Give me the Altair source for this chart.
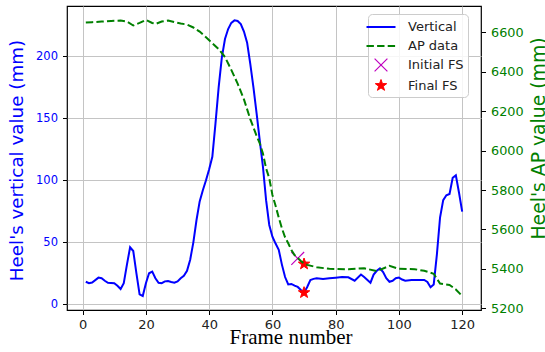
import altair as alt
import pandas as pd

# ---- data ----
frames_v = [1, 2, 3, 5, 6, 7, 8, 10, 11, 12, 13, 14, 15, 16, 17, 18, 19, 20, 21, 22, 23, 24, 25, 26, 27,
            28, 29, 30, 31, 32, 33, 34, 35, 36, 37, 38, 39, 40, 41, 42, 43, 44, 45, 46, 47, 48, 49, 50,
            51, 52, 53, 54, 55, 56, 57, 58, 59, 60, 61, 62, 63, 64, 65, 66, 67, 68, 69, 70, 71, 72, 73,
            74, 76, 78, 80, 82, 84, 86, 88, 89, 91, 92, 93, 94, 95, 96, 97, 98, 99, 100, 101, 102, 104,
            106, 108, 109, 110, 111, 112, 113, 114, 115, 116, 117, 118, 119, 120]
vertical = [18.2, 17, 17.5, 21.5, 21, 19, 17.4, 17, 15, 12.3, 17, 32, 46, 43, 25, 8, 6.7, 17, 25, 26.3,
            21, 17.4, 17, 18.5, 18.8, 18, 17.4, 18.5, 21, 23, 27, 36, 50, 68, 83, 92, 100, 109, 119, 146,
            175, 199, 214, 222, 227, 229, 228.5, 226, 220, 211, 194, 175, 154, 132, 111, 84, 64, 54.5, 49,
            44, 32, 22, 16, 16.4, 15, 14, 11.5, 9.4, 14, 19.6, 20.5, 21, 20.5, 21, 21.5, 22, 21.8, 19, 24,
            22, 17.4, 24, 27, 29, 26, 21, 18.2, 19, 21, 21.5, 20, 19, 19.5, 19.5, 19.6, 18, 13.7, 16, 40,
            70, 84, 88, 89, 102, 104, 90, 74.7]

frames_ap = [1, 3, 6, 9, 12, 14, 16, 18, 20, 22, 23, 25, 27, 29, 31, 33, 35, 37, 39, 41, 43, 45, 47, 49,
             51, 53, 55, 56, 57, 58, 59, 60, 61, 62, 63, 64, 65, 66, 67, 68, 69, 70, 71, 74, 78, 84, 89,
             93, 97, 100, 105, 108, 111, 113, 116, 118, 120]
ap_data = [6650, 6652, 6655, 6658, 6660, 6655, 6635, 6648, 6663, 6648, 6643, 6655, 6660, 6652, 6645,
           6640, 6625, 6604, 6575, 6545, 6515, 6475, 6410, 6340, 6260, 6160, 6075, 6037, 5985, 5910,
           5860, 5775, 5720, 5660, 5606, 5560, 5530, 5495, 5470, 5455, 5440, 5428, 5420, 5408, 5400,
           5398, 5403, 5388, 5415, 5400, 5398, 5390, 5375, 5325, 5318, 5295, 5262]

marker_frames = [68, 70, 70]
marker_values = [37, 32.5, 9.4]
marker_series = ["Initial FS", "Final FS", "Final FS"]

legend_names = ["Vertical", "AP data", "Initial FS", "Final FS"]
legend_colors = ["#0000ff", "#008000", "#bf00bf", "#ff0000"]
legend_fills = ["transparent", "transparent", "transparent", "#ff0000"]
legend_widths = [2, 2, 1.2, 1]
legend_paths = [
    "M-1.8125,0L1.8125,0",
    "M-1.8125,0L-0.8875,0M-0.4875,0L0.4375,0M0.8375,0L1.7625,0",
    "M-0.8,-0.8L0.8,0.8M-0.8,0.8L0.8,-0.8",
    "M0,-0.75L0.176,-0.243L0.714,-0.231L0.285,0.093L0.441,0.606L0,0.3L-0.441,0.606"
    "L-0.285,0.093L-0.714,-0.231L-0.176,-0.243Z",
]

x_ticks = [0, 20, 40, 60, 80, 100, 120]
left_ticks = [0, 50, 100, 150, 200]
right_ticks = [5200, 5400, 5600, 5800, 6000, 6200, 6400, 6600]

df_v = pd.DataFrame({"frame": frames_v, "value": vertical})
df_ap = pd.DataFrame({"frame": frames_ap, "value": ap_data})
df_m = pd.DataFrame({"frame": marker_frames, "value": marker_values, "series": marker_series})

W, H = 414, 304
FONT = "DejaVu Sans"

x_scale = alt.Scale(domain=[-4.95, 125.95], nice=False, zero=False)
left_scale = alt.Scale(domain=[-4.6, 240.6], nice=False, zero=False)
right_scale = alt.Scale(domain=[5191, 6734], nice=False, zero=False)

x_axis = alt.Axis(values=x_ticks, title="Frame number", grid=True, gridColor="#c4c4c4", gridWidth=1,
                  domain=False, ticks=True, tickColor="black", tickSize=4.5, tickWidth=1,
                  labelFont=FONT, labelFontSize=13, labelColor="#222222", labelPadding=4,
                  titleFont="Liberation Serif", titleFontSize=21, titleFontWeight="normal",
                  titleColor="black", titleX=223.5, titleY=33, titleBaseline="alphabetic",
                  titleAlign="center", titleAnchor="start")

x_enc = alt.X("frame:Q", scale=x_scale, axis=x_axis)

left_axis = alt.Axis(values=left_ticks, title="Heel's vertical value (mm)", grid=True,
                     gridColor="#c4c4c4", gridWidth=1, domain=False, tickColor="black",
                     tickSize=4.5, tickWidth=1, labelFont=FONT, labelFontSize=11.5,
                     labelColor="#0000ff", labelPadding=5, titleFont=FONT, titleFontSize=18.3,
                     titleFontWeight="normal", titleColor="#0000ff", titleAngle=270,
                     titleX=-50, titleY=154, titleAlign="center", titleBaseline="middle",
                     titleAnchor="start")

right_axis = alt.Axis(values=right_ticks, format="d", title="Heel's AP value (mm)", grid=False,
                      orient="right", domain=False, tickColor="black", tickSize=4.5, tickWidth=1,
                      labelFont=FONT, labelFontSize=12.8, labelColor="#008000", labelPadding=5,
                      titleFont=FONT, titleFontSize=18.8, titleFontWeight="normal",
                      titleColor="#008000", titleAngle=270, titleX=57, titleY=132,
                      titleAlign="center", titleBaseline="middle", titleAnchor="start")

y_left = alt.Y("value:Q", scale=left_scale, axis=left_axis)

vert_line = alt.Chart(df_v).mark_line(color="#0000ff", strokeWidth=2).encode(
    x=x_enc,
    y=y_left,
)

markers = alt.Chart(df_m).mark_point(filled=False, size=256, opacity=1).encode(
    x=x_enc,
    y=y_left,
    stroke=alt.Stroke("series:N", scale=alt.Scale(domain=legend_names, range=legend_colors), title=None),
    fill=alt.Fill("series:N", scale=alt.Scale(domain=legend_names, range=legend_fills), title=None),
    shape=alt.Shape("series:N", scale=alt.Scale(domain=legend_names, range=legend_paths), title=None),
    strokeWidth=alt.StrokeWidth("series:N", scale=alt.Scale(type="ordinal", domain=legend_names,
                                                            range=legend_widths), title=None),
)

left_layer = alt.layer(vert_line, markers)

ap_line = alt.Chart(df_ap).mark_line(color="#008000", strokeWidth=2, strokeDash=[7.4, 3.2]).encode(
    x=x_enc,
    y=alt.Y("value:Q", scale=right_scale, axis=right_axis),
)

chart = alt.layer(left_layer, ap_line).resolve_scale(y="independent").properties(
    width=W, height=H,
    autosize=alt.AutoSizeParams(type="none"),
    padding={"left": 67, "top": 6, "right": 64, "bottom": 42},
).configure_view(
    stroke="black", strokeWidth=1.2
).configure_legend(
    orient="none", legendX=301, legendY=8, padding=4,
    fillColor="rgba(255,255,255,0.85)", strokeColor="#cccccc", cornerRadius=4,
    labelFont=FONT, labelFontSize=13, labelColor="#222222", labelLimit=200,
    symbolSize=256, labelOffset=18, rowPadding=3,
)

chart.save("out.html", embed_options={"renderer": "svg", "actions": False})
